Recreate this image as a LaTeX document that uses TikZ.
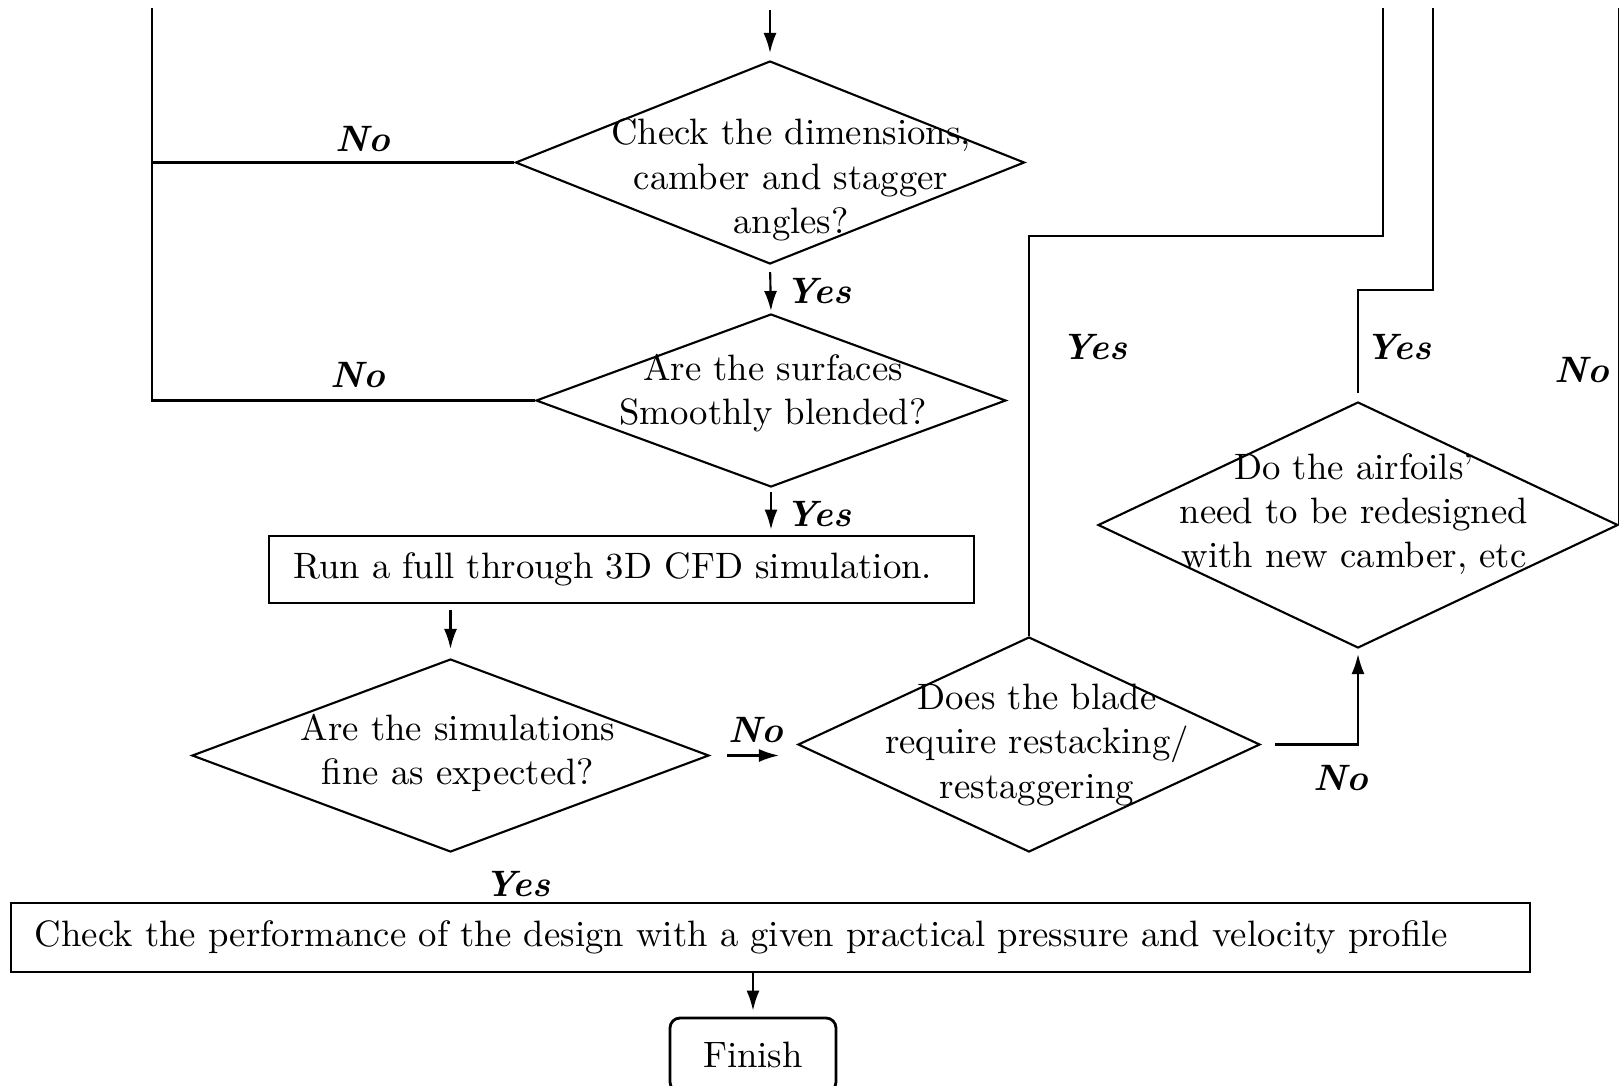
\documentclass[tikz,border=0pt]{standalone}
\usepackage{amsmath,bm}
\usepackage{tikz}
\usetikzlibrary{arrows.meta,shapes.geometric,positioning}

\newcommand{\qfont}{\fontsize{10.45}{12.6}\selectfont}
\newcommand{\afont}{\fontsize{10.45}{12.6}\selectfont\bfseries\itshape}
\tikzset{
  decision/.style={diamond, draw, semithick, inner sep=0pt},
  qtext/.style={align=center},
  process/.style={rectangle, draw, thick, align=left, inner xsep=0.24cm},
  answer/.style={inner sep=0pt, font=\afont},
  flow/.style={-{Latex[length=2mm,width=1.3mm]}, semithick},
  line/.style={semithick},
}

\begin{document}
\begin{tikzpicture}[font=\qfont]
  \useasboundingbox (0,0) rectangle (16.19,-10.85);
  \clip (0,0) rectangle (16.19,-10.85);

  % decisions
  \node[decision, minimum width=5.09cm, minimum height=2.03cm] (q1) at (7.70,-1.625) {};
  \node[qtext] (q1t) at (7.91,-1.80) {Check the dimensions,\\camber and stagger\\angles?};
  \node[decision, minimum width=4.70cm, minimum height=1.73cm] (q2) at (7.71,-4.005) {};
  \node[qtext] (q2t) at (7.73,-3.93) {Are the surfaces\\Smoothly blended?};
  \node[decision, minimum width=5.17cm, minimum height=1.93cm] (q3) at (4.505,-7.555) {};
  \node[qtext] (q3t) at (4.58,-7.53) {Are the simulations\\fine as expected?};
  \node[decision, minimum width=4.62cm, minimum height=2.15cm] (q4) at (10.29,-7.445) {};
  \node[qtext] (q4t) at (10.37,-7.45) {Does the blade\\require restacking/\\restaggering};
  \node[decision, minimum width=5.20cm, minimum height=2.46cm] (q5) at (13.58,-5.25) {};
  \node[qtext] (q5t) at (13.54,-5.14) {Do the airfoils'\\need to be redesigned\\with new camber, etc};

  % boxes
  \node[process, text width=6.57cm, minimum height=0.67cm] (run) at (6.215,-5.695) {Run a full through 3D CFD simulation.};
  \node[process, text width=14.71cm, minimum height=0.69cm] (check) at (7.705,-9.375) {Check the performance of the design with a given practical pressure and velocity profile};
  \node[draw, thick, rounded corners=0.1cm, minimum width=1.66cm, minimum height=0.74cm] (finish) at (7.53,-10.55) {Finish};

  % loose ends
  \coordinate (in) at (7.70,-0.10);
  \coordinate (backL) at (1.52,-0.08);
  \coordinate (bendA) at (13.83,-2.36);
  \coordinate (backA) at (13.83,-0.08);
  \coordinate (bendB) at (14.33,-2.90);
  \coordinate (backB) at (14.33,-0.08);
  \coordinate (backC) at (16.16,-0.08);

  % connectors
  \draw[flow, shorten >=0.07cm] (in) -- (q1);
  \draw[line] (q1.west) -- (q1.west -| backL);
  \draw[line] (q2.west) -| (backL);
  \draw[flow, shorten <=0.07cm, shorten >=0.02cm] (q1.south) -- (q2.north);
  \draw[flow, shorten <=0.04cm, shorten >=0.05cm] (q2.south) -- (q2.south |- run.north);
  \draw[flow, shorten <=0.06cm, shorten >=0.09cm] (q3.north |- run.south) -- (q3.north);
  \draw[flow, shorten <=0.17cm, shorten >=0.18cm] (q3.east) -- (q3.east -| q4.west);
  \draw[line] (q4.north) |- (bendA) -- (backA);
  \draw[flow, shorten <=0.14cm, shorten >=0.05cm] (q4.east) -| (q5.south);
  \draw[line] ([yshift=0.08cm]q5.north) |- (bendB) -- (backB);
  \draw[line] (q5.east) -- (q5.east |- backC);
  \draw[flow, shorten >=0.06cm] (finish.north |- check.south) -- (finish.north);

  % answers
  \node[answer] (no1) at (3.63,-1.39) {No};
  \node[answer] (no2) at (3.58,-3.75) {No};
  \node[answer] (yes1) at (8.18,-2.91) {Yes};
  \node[answer] (yes2) at (8.18,-5.14) {Yes};
  \node[answer] (no3) at (7.56,-7.30) {No};
  \node[answer] (yes3) at (10.94,-3.47) {Yes};
  \node[answer] (yes4) at (13.98,-3.47) {Yes};
  \node[answer] (no4) at (15.82,-3.70) {No};
  \node[answer] (no5) at (13.41,-7.78) {No};
  \node[answer] (yes5) at (5.17,-8.84) {Yes};
\end{tikzpicture}
\end{document}
